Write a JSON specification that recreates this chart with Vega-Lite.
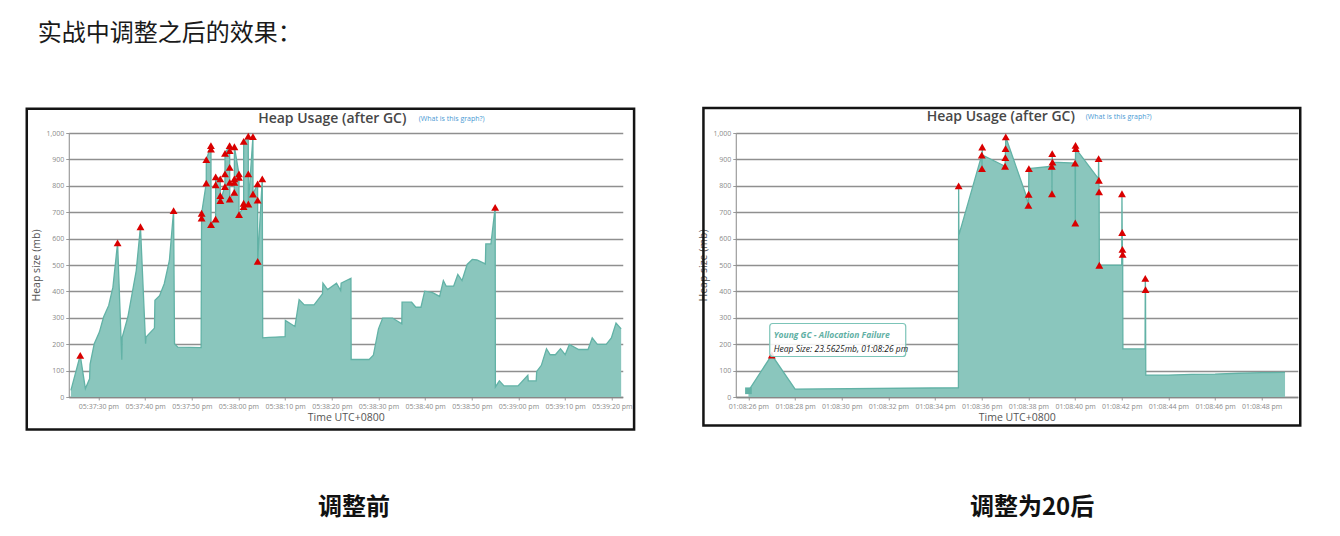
{
  "$schema": "https://vega.github.io/schema/vega-lite/v6.json",
  "background": "white",
  "autosize": {"type": "pad"},
  "padding": {"left": 24.75, "top": 21, "right": 0, "bottom": 0},
  "spacing": 113,
  "bounds": "flush",
  "datasets": {
    "before": [
      {"time": "2020-01-01T17:37:24.100Z", "heap": 25, "event": "Young GC"},
      {"time": "2020-01-01T17:37:26.100Z", "heap": 158, "event": "Full GC"},
      {"time": "2020-01-01T17:37:27.200Z", "heap": 32, "event": "Young GC"},
      {"time": "2020-01-01T17:37:28.100Z", "heap": 69, "event": "Young GC"},
      {"time": "2020-01-01T17:37:28.200Z", "heap": 124, "event": "Young GC"},
      {"time": "2020-01-01T17:37:29.100Z", "heap": 202, "event": "Young GC"},
      {"time": "2020-01-01T17:37:30.200Z", "heap": 246, "event": "Young GC"},
      {"time": "2020-01-01T17:37:31.100Z", "heap": 303, "event": "Young GC"},
      {"time": "2020-01-01T17:37:32.200Z", "heap": 347, "event": "Young GC"},
      {"time": "2020-01-01T17:37:33.100Z", "heap": 416, "event": "Young GC"},
      {"time": "2020-01-01T17:37:34.100Z", "heap": 584, "event": "Full GC"},
      {"time": "2020-01-01T17:37:35.000Z", "heap": 141, "event": "Young GC"},
      {"time": "2020-01-01T17:37:35.100Z", "heap": 227, "event": "Young GC"},
      {"time": "2020-01-01T17:37:36.300Z", "heap": 303, "event": "Young GC"},
      {"time": "2020-01-01T17:37:38.100Z", "heap": 479, "event": "Young GC"},
      {"time": "2020-01-01T17:37:39.000Z", "heap": 645, "event": "Full GC"},
      {"time": "2020-01-01T17:37:40.100Z", "heap": 202, "event": "Young GC"},
      {"time": "2020-01-01T17:37:40.200Z", "heap": 227, "event": "Young GC"},
      {"time": "2020-01-01T17:37:42.000Z", "heap": 261, "event": "Young GC"},
      {"time": "2020-01-01T17:37:42.100Z", "heap": 366, "event": "Young GC"},
      {"time": "2020-01-01T17:37:43.100Z", "heap": 384, "event": "Young GC"},
      {"time": "2020-01-01T17:37:44.100Z", "heap": 429, "event": "Young GC"},
      {"time": "2020-01-01T17:37:45.200Z", "heap": 517, "event": "Young GC"},
      {"time": "2020-01-01T17:37:46.100Z", "heap": 706, "event": "Full GC"},
      {"time": "2020-01-01T17:37:46.300Z", "heap": 202, "event": "Young GC"},
      {"time": "2020-01-01T17:37:47.000Z", "heap": 189, "event": "Young GC"},
      {"time": "2020-01-01T17:37:52.000Z", "heap": 187, "event": "Young GC"},
      {"time": "2020-01-01T17:37:52.100Z", "heap": 678, "event": "Full GC"},
      {"time": "2020-01-01T17:37:52.110Z", "heap": 696, "event": "Full GC"},
      {"time": "2020-01-01T17:37:53.100Z", "heap": 810, "event": "Full GC"},
      {"time": "2020-01-01T17:37:53.110Z", "heap": 899, "event": "Full GC"},
      {"time": "2020-01-01T17:37:54.100Z", "heap": 952, "event": "Full GC"},
      {"time": "2020-01-01T17:37:54.110Z", "heap": 939, "event": "Full GC"},
      {"time": "2020-01-01T17:37:54.120Z", "heap": 653, "event": "Full GC"},
      {"time": "2020-01-01T17:37:55.100Z", "heap": 674, "event": "Full GC"},
      {"time": "2020-01-01T17:37:55.110Z", "heap": 804, "event": "Full GC"},
      {"time": "2020-01-01T17:37:55.120Z", "heap": 834, "event": "Full GC"},
      {"time": "2020-01-01T17:37:56.100Z", "heap": 826, "event": "Full GC"},
      {"time": "2020-01-01T17:37:56.110Z", "heap": 763, "event": "Full GC"},
      {"time": "2020-01-01T17:37:56.120Z", "heap": 744, "event": "Full GC"},
      {"time": "2020-01-01T17:37:57.100Z", "heap": 797, "event": "Full GC"},
      {"time": "2020-01-01T17:37:57.110Z", "heap": 845, "event": "Full GC"},
      {"time": "2020-01-01T17:37:57.120Z", "heap": 923, "event": "Full GC"},
      {"time": "2020-01-01T17:37:58.100Z", "heap": 952, "event": "Full GC"},
      {"time": "2020-01-01T17:37:58.110Z", "heap": 933, "event": "Full GC"},
      {"time": "2020-01-01T17:37:58.120Z", "heap": 870, "event": "Full GC"},
      {"time": "2020-01-01T17:37:58.130Z", "heap": 813, "event": "Full GC"},
      {"time": "2020-01-01T17:37:58.140Z", "heap": 750, "event": "Full GC"},
      {"time": "2020-01-01T17:37:59.100Z", "heap": 775, "event": "Full GC"},
      {"time": "2020-01-01T17:37:59.110Z", "heap": 813, "event": "Full GC"},
      {"time": "2020-01-01T17:37:59.120Z", "heap": 826, "event": "Full GC"},
      {"time": "2020-01-01T17:37:59.130Z", "heap": 948, "event": "Full GC"},
      {"time": "2020-01-01T17:38:00.100Z", "heap": 845, "event": "Full GC"},
      {"time": "2020-01-01T17:38:00.110Z", "heap": 832, "event": "Full GC"},
      {"time": "2020-01-01T17:38:00.120Z", "heap": 691, "event": "Full GC"},
      {"time": "2020-01-01T17:38:01.100Z", "heap": 721, "event": "Full GC"},
      {"time": "2020-01-01T17:38:01.110Z", "heap": 734, "event": "Full GC"},
      {"time": "2020-01-01T17:38:01.120Z", "heap": 968, "event": "Full GC"},
      {"time": "2020-01-01T17:38:02.100Z", "heap": 988, "event": "Full GC"},
      {"time": "2020-01-01T17:38:02.110Z", "heap": 845, "event": "Full GC"},
      {"time": "2020-01-01T17:38:02.120Z", "heap": 731, "event": "Full GC"},
      {"time": "2020-01-01T17:38:03.100Z", "heap": 986, "event": "Full GC"},
      {"time": "2020-01-01T17:38:03.110Z", "heap": 769, "event": "Full GC"},
      {"time": "2020-01-01T17:38:04.100Z", "heap": 807, "event": "Full GC"},
      {"time": "2020-01-01T17:38:04.110Z", "heap": 746, "event": "Full GC"},
      {"time": "2020-01-01T17:38:04.120Z", "heap": 514, "event": "Full GC"},
      {"time": "2020-01-01T17:38:05.100Z", "heap": 826, "event": "Full GC"},
      {"time": "2020-01-01T17:38:05.200Z", "heap": 224, "event": "Young GC"},
      {"time": "2020-01-01T17:38:06.500Z", "heap": 226, "event": "Young GC"},
      {"time": "2020-01-01T17:38:08.000Z", "heap": 227, "event": "Young GC"},
      {"time": "2020-01-01T17:38:10.000Z", "heap": 229, "event": "Young GC"},
      {"time": "2020-01-01T17:38:10.050Z", "heap": 290, "event": "Young GC"},
      {"time": "2020-01-01T17:38:12.100Z", "heap": 267, "event": "Young GC"},
      {"time": "2020-01-01T17:38:13.000Z", "heap": 369, "event": "Young GC"},
      {"time": "2020-01-01T17:38:14.100Z", "heap": 349, "event": "Young GC"},
      {"time": "2020-01-01T17:38:16.200Z", "heap": 349, "event": "Young GC"},
      {"time": "2020-01-01T17:38:18.000Z", "heap": 391, "event": "Young GC"},
      {"time": "2020-01-01T17:38:18.100Z", "heap": 431, "event": "Young GC"},
      {"time": "2020-01-01T17:38:19.100Z", "heap": 407, "event": "Young GC"},
      {"time": "2020-01-01T17:38:21.000Z", "heap": 431, "event": "Young GC"},
      {"time": "2020-01-01T17:38:21.900Z", "heap": 403, "event": "Young GC"},
      {"time": "2020-01-01T17:38:22.000Z", "heap": 431, "event": "Young GC"},
      {"time": "2020-01-01T17:38:24.100Z", "heap": 450, "event": "Young GC"},
      {"time": "2020-01-01T17:38:24.150Z", "heap": 142, "event": "Young GC"},
      {"time": "2020-01-01T17:38:28.000Z", "heap": 142, "event": "Young GC"},
      {"time": "2020-01-01T17:38:28.900Z", "heap": 158, "event": "Young GC"},
      {"time": "2020-01-01T17:38:30.000Z", "heap": 258, "event": "Young GC"},
      {"time": "2020-01-01T17:38:30.900Z", "heap": 299, "event": "Young GC"},
      {"time": "2020-01-01T17:38:33.000Z", "heap": 299, "event": "Young GC"},
      {"time": "2020-01-01T17:38:35.000Z", "heap": 277, "event": "Young GC"},
      {"time": "2020-01-01T17:38:35.050Z", "heap": 359, "event": "Young GC"},
      {"time": "2020-01-01T17:38:37.100Z", "heap": 359, "event": "Young GC"},
      {"time": "2020-01-01T17:38:38.000Z", "heap": 340, "event": "Young GC"},
      {"time": "2020-01-01T17:38:39.100Z", "heap": 340, "event": "Young GC"},
      {"time": "2020-01-01T17:38:39.900Z", "heap": 401, "event": "Young GC"},
      {"time": "2020-01-01T17:38:41.600Z", "heap": 395, "event": "Young GC"},
      {"time": "2020-01-01T17:38:43.100Z", "heap": 381, "event": "Young GC"},
      {"time": "2020-01-01T17:38:43.900Z", "heap": 441, "event": "Young GC"},
      {"time": "2020-01-01T17:38:44.500Z", "heap": 420, "event": "Young GC"},
      {"time": "2020-01-01T17:38:46.100Z", "heap": 420, "event": "Young GC"},
      {"time": "2020-01-01T17:38:47.000Z", "heap": 464, "event": "Young GC"},
      {"time": "2020-01-01T17:38:47.900Z", "heap": 441, "event": "Young GC"},
      {"time": "2020-01-01T17:38:49.000Z", "heap": 502, "event": "Young GC"},
      {"time": "2020-01-01T17:38:50.100Z", "heap": 521, "event": "Young GC"},
      {"time": "2020-01-01T17:38:51.100Z", "heap": 519, "event": "Young GC"},
      {"time": "2020-01-01T17:38:52.900Z", "heap": 504, "event": "Young GC"},
      {"time": "2020-01-01T17:38:53.000Z", "heap": 580, "event": "Young GC"},
      {"time": "2020-01-01T17:38:54.100Z", "heap": 580, "event": "Young GC"},
      {"time": "2020-01-01T17:38:55.000Z", "heap": 718, "event": "Full GC"},
      {"time": "2020-01-01T17:38:55.050Z", "heap": 38, "event": "Young GC"},
      {"time": "2020-01-01T17:38:55.900Z", "heap": 61, "event": "Young GC"},
      {"time": "2020-01-01T17:38:56.900Z", "heap": 42, "event": "Young GC"},
      {"time": "2020-01-01T17:38:59.900Z", "heap": 42, "event": "Young GC"},
      {"time": "2020-01-01T17:39:02.000Z", "heap": 82, "event": "Young GC"},
      {"time": "2020-01-01T17:39:02.100Z", "heap": 61, "event": "Young GC"},
      {"time": "2020-01-01T17:39:03.800Z", "heap": 61, "event": "Young GC"},
      {"time": "2020-01-01T17:39:03.900Z", "heap": 97, "event": "Young GC"},
      {"time": "2020-01-01T17:39:04.900Z", "heap": 120, "event": "Young GC"},
      {"time": "2020-01-01T17:39:06.000Z", "heap": 183, "event": "Young GC"},
      {"time": "2020-01-01T17:39:06.800Z", "heap": 160, "event": "Young GC"},
      {"time": "2020-01-01T17:39:07.900Z", "heap": 160, "event": "Young GC"},
      {"time": "2020-01-01T17:39:09.000Z", "heap": 183, "event": "Young GC"},
      {"time": "2020-01-01T17:39:10.000Z", "heap": 160, "event": "Young GC"},
      {"time": "2020-01-01T17:39:10.900Z", "heap": 199, "event": "Young GC"},
      {"time": "2020-01-01T17:39:12.900Z", "heap": 180, "event": "Young GC"},
      {"time": "2020-01-01T17:39:14.900Z", "heap": 180, "event": "Young GC"},
      {"time": "2020-01-01T17:39:15.800Z", "heap": 224, "event": "Young GC"},
      {"time": "2020-01-01T17:39:16.900Z", "heap": 199, "event": "Young GC"},
      {"time": "2020-01-01T17:39:18.800Z", "heap": 199, "event": "Young GC"},
      {"time": "2020-01-01T17:39:19.900Z", "heap": 224, "event": "Young GC"},
      {"time": "2020-01-01T17:39:20.900Z", "heap": 280, "event": "Young GC"},
      {"time": "2020-01-01T17:39:22.000Z", "heap": 258, "event": "Young GC"}
    ],
    "after": [
      {"time": "2020-01-01T13:08:26.000Z", "heap": 23.5625, "event": "Young GC"},
      {"time": "2020-01-01T13:08:27.000Z", "heap": 159, "event": "Full GC"},
      {"time": "2020-01-01T13:08:28.000Z", "heap": 30, "event": "Young GC"},
      {"time": "2020-01-01T13:08:35.000Z", "heap": 35, "event": "Young GC"},
      {"time": "2020-01-01T13:08:35.010Z", "heap": 800, "event": "Full GC"},
      {"time": "2020-01-01T13:08:35.020Z", "heap": 613, "event": "Young GC"},
      {"time": "2020-01-01T13:08:36.000Z", "heap": 916, "event": "Full GC"},
      {"time": "2020-01-01T13:08:36.010Z", "heap": 865, "event": "Full GC"},
      {"time": "2020-01-01T13:08:36.020Z", "heap": 947, "event": "Full GC"},
      {"time": "2020-01-01T13:08:36.030Z", "heap": 916, "event": "Young GC"},
      {"time": "2020-01-01T13:08:37.000Z", "heap": 874, "event": "Full GC"},
      {"time": "2020-01-01T13:08:37.010Z", "heap": 907, "event": "Full GC"},
      {"time": "2020-01-01T13:08:37.020Z", "heap": 941, "event": "Full GC"},
      {"time": "2020-01-01T13:08:37.030Z", "heap": 985, "event": "Full GC"},
      {"time": "2020-01-01T13:08:37.900Z", "heap": 764, "event": "Young GC"},
      {"time": "2020-01-01T13:08:38.000Z", "heap": 726, "event": "Full GC"},
      {"time": "2020-01-01T13:08:38.010Z", "heap": 768, "event": "Full GC"},
      {"time": "2020-01-01T13:08:38.020Z", "heap": 865, "event": "Full GC"},
      {"time": "2020-01-01T13:08:39.000Z", "heap": 874, "event": "Full GC"},
      {"time": "2020-01-01T13:08:39.010Z", "heap": 770, "event": "Full GC"},
      {"time": "2020-01-01T13:08:39.020Z", "heap": 922, "event": "Full GC"},
      {"time": "2020-01-01T13:08:39.030Z", "heap": 890, "event": "Full GC"},
      {"time": "2020-01-01T13:08:40.000Z", "heap": 886, "event": "Full GC"},
      {"time": "2020-01-01T13:08:40.010Z", "heap": 659, "event": "Full GC"},
      {"time": "2020-01-01T13:08:40.020Z", "heap": 953, "event": "Full GC"},
      {"time": "2020-01-01T13:08:40.030Z", "heap": 941, "event": "Full GC"},
      {"time": "2020-01-01T13:08:41.000Z", "heap": 827, "event": "Young GC"},
      {"time": "2020-01-01T13:08:41.010Z", "heap": 903, "event": "Full GC"},
      {"time": "2020-01-01T13:08:41.020Z", "heap": 821, "event": "Full GC"},
      {"time": "2020-01-01T13:08:41.030Z", "heap": 777, "event": "Full GC"},
      {"time": "2020-01-01T13:08:41.040Z", "heap": 499, "event": "Full GC"},
      {"time": "2020-01-01T13:08:42.000Z", "heap": 499, "event": "Young GC"},
      {"time": "2020-01-01T13:08:42.010Z", "heap": 770, "event": "Full GC"},
      {"time": "2020-01-01T13:08:42.020Z", "heap": 623, "event": "Full GC"},
      {"time": "2020-01-01T13:08:42.030Z", "heap": 559, "event": "Full GC"},
      {"time": "2020-01-01T13:08:42.040Z", "heap": 540, "event": "Full GC"},
      {"time": "2020-01-01T13:08:42.050Z", "heap": 182, "event": "Young GC"},
      {"time": "2020-01-01T13:08:43.000Z", "heap": 182, "event": "Young GC"},
      {"time": "2020-01-01T13:08:43.010Z", "heap": 449, "event": "Full GC"},
      {"time": "2020-01-01T13:08:43.020Z", "heap": 407, "event": "Full GC"},
      {"time": "2020-01-01T13:08:43.030Z", "heap": 83, "event": "Young GC"},
      {"time": "2020-01-01T13:08:44.000Z", "heap": 83, "event": "Young GC"},
      {"time": "2020-01-01T13:08:45.000Z", "heap": 86, "event": "Young GC"},
      {"time": "2020-01-01T13:08:46.000Z", "heap": 87, "event": "Young GC"},
      {"time": "2020-01-01T13:08:47.000Z", "heap": 90, "event": "Young GC"},
      {"time": "2020-01-01T13:08:48.000Z", "heap": 92, "event": "Young GC"},
      {"time": "2020-01-01T13:08:49.000Z", "heap": 93, "event": "Young GC"}
    ]
  },
  "hconcat": [
    {
      "width": 554,
      "height": 264,
      "data": {"name": "before"},
      "layer": [
        {
          "mark": {"type": "area", "color": "#8ac6bd", "opacity": 1, "line": {"color": "#62b2a6", "strokeWidth": 1.3}},
          "encoding": {
            "x": {"field": "time", "type": "temporal", "title": "Time UTC+0800",
                  "scale": {"type": "utc", "domain": [1577900243636, 1577900362340]},
                  "axis": {"values": [1577900250000, 1577900260000, 1577900270000, 1577900280000, 1577900290000, 1577900300000, 1577900310000, 1577900320000, 1577900330000, 1577900340000, 1577900350000, 1577900360000], "labelExpr": "lower(utcFormat(datum.value, '%I:%M:%S %p'))"}},
            "y": {"field": "heap", "type": "quantitative", "title": "Heap size (mb)",
                  "scale": {"domain": [0, 1000], "nice": false},
                  "axis": {"tickCount": 10, "labelExpr": "format(datum.value, ',d')"}}
          }
        },
        {
          "transform": [{"filter": "datum.event === 'Full GC'"}],
          "mark": {"type": "point", "shape": "triangle-up", "filled": true, "color": "#d90000", "size": 62, "opacity": 1},
          "encoding": {
            "x": {"field": "time", "type": "temporal"},
            "y": {"field": "heap", "type": "quantitative"}
          }
        },
        {
          "data": {"values": [{}]},
          "mark": {"type": "rect", "filled": false, "color": "#141414", "strokeWidth": 2.5, "clip": false},
          "encoding": {
            "x": {"datum": 1577900234640, "type": "temporal"},
            "x2": {"datum": 1577900364770},
            "y": {"datum": 1091.7, "type": "quantitative"},
            "y2": {"datum": -123.1}
          }
        },
        {
          "data": {"values": [{}]},
          "mark": {"type": "text", "text": "实战中调整之后的效果：", "font": "Noto Sans CJK SC", "fontSize": 24, "color": "#1a1a1a", "align": "left", "baseline": "alphabetic"},
          "encoding": {
            "x": {"datum": 1577900237000, "type": "temporal"},
            "y": {"datum": 1350, "type": "quantitative"}
          }
        },
        {
          "data": {"values": [{}]},
          "mark": {"type": "text", "text": "Heap Usage (after GC)", "font": "Open Sans", "fontSize": 14, "fontWeight": 600, "color": "#474747", "align": "center", "baseline": "middle"},
          "encoding": {
            "x": {"datum": 1577900300100, "type": "temporal"},
            "y": {"datum": 1054.9, "type": "quantitative"}
          }
        },
        {
          "data": {"values": [{}]},
          "mark": {"type": "text", "text": "(What is this graph?)", "font": "Open Sans", "fontSize": 7, "color": "#4a9ad4", "align": "left", "baseline": "middle"},
          "encoding": {
            "x": {"datum": 1577900318630, "type": "temporal"},
            "y": {"datum": 1054.9, "type": "quantitative"}
          }
        },
        {
          "data": {"values": [{}]},
          "mark": {"type": "text", "text": "调整前", "font": "Noto Sans CJK SC", "fontSize": 24, "fontWeight": "bold", "color": "#111111", "align": "center", "baseline": "middle"},
          "encoding": {
            "x": {"datum": 1577900304770, "type": "temporal"},
            "y": {"datum": -420, "type": "quantitative"}
          }
        }
      ]
    },
    {
      "width": 562,
      "height": 264,
      "data": {"name": "after"},
      "layer": [
        {
          "mark": {"type": "area", "color": "#8ac6bd", "opacity": 1, "line": {"color": "#62b2a6", "strokeWidth": 1.3}},
          "encoding": {
            "x": {"field": "time", "type": "temporal", "title": "Time UTC+0800",
                  "scale": {"type": "utc", "domain": [1577884105456, 1577884129545]},
                  "axis": {"values": [1577884106000, 1577884108000, 1577884110000, 1577884112000, 1577884114000, 1577884116000, 1577884118000, 1577884120000, 1577884122000, 1577884124000, 1577884126000, 1577884128000], "labelExpr": "lower(utcFormat(datum.value, '%I:%M:%S %p'))"}},
            "y": {"field": "heap", "type": "quantitative", "title": "Heap size (mb)",
                  "scale": {"domain": [0, 1000], "nice": false},
                  "axis": {"tickCount": 10, "labelExpr": "format(datum.value, ',d')"}}
          }
        },
        {
          "transform": [{"filter": "datum.event === 'Full GC'"}],
          "mark": {"type": "point", "shape": "triangle-up", "filled": true, "color": "#d90000", "size": 62, "opacity": 1},
          "encoding": {
            "x": {"field": "time", "type": "temporal"},
            "y": {"field": "heap", "type": "quantitative"}
          }
        },
        {
          "transform": [{"filter": "datum.heap === 23.5625"}],
          "mark": {"type": "point", "shape": "square", "filled": true, "color": "#62b2a6", "size": 45, "opacity": 1},
          "encoding": {
            "x": {"field": "time", "type": "temporal"},
            "y": {"field": "heap", "type": "quantitative"}
          }
        },
        {
          "data": {"values": [{}]},
          "mark": {"type": "rect", "fill": "white", "fillOpacity": 0.88, "stroke": "#7cc4b8", "strokeWidth": 1.2, "cornerRadius": 3},
          "encoding": {
            "x": {"datum": 1577884106913, "type": "temporal"},
            "x2": {"datum": 1577884112742},
            "y": {"datum": 278.4, "type": "quantitative"},
            "y2": {"datum": 153.4}
          }
        },
        {
          "data": {"values": [{}]},
          "mark": {"type": "text", "text": "Young GC - Allocation Failure", "font": "Open Sans", "fontSize": 8.5, "fontStyle": "italic", "fontWeight": "bold", "color": "#5fb0a4", "align": "left", "baseline": "middle"},
          "encoding": {
            "x": {"datum": 1577884107084, "type": "temporal"},
            "y": {"datum": 236.7, "type": "quantitative"}
          }
        },
        {
          "data": {"values": [{}]},
          "mark": {"type": "text", "text": "Heap Size: 23.5625mb, 01:08:26 pm", "font": "Open Sans", "fontSize": 8.5, "fontStyle": "italic", "color": "#222222", "align": "left", "baseline": "middle"},
          "encoding": {
            "x": {"datum": 1577884107084, "type": "temporal"},
            "y": {"datum": 183.7, "type": "quantitative"}
          }
        },
        {
          "data": {"values": [{}]},
          "mark": {"type": "rect", "filled": false, "color": "#141414", "strokeWidth": 2.5, "clip": false},
          "encoding": {
            "x": {"datum": 1577884104071, "type": "temporal"},
            "x2": {"datum": 1577884129652},
            "y": {"datum": 1094.7, "type": "quantitative"},
            "y2": {"datum": -108}
          }
        },
        {
          "data": {"values": [{}]},
          "mark": {"type": "text", "text": "Heap Usage (after GC)", "font": "Open Sans", "fontSize": 14, "fontWeight": 600, "color": "#474747", "align": "center", "baseline": "middle"},
          "encoding": {
            "x": {"datum": 1577884116815, "type": "temporal"},
            "y": {"datum": 1062.5, "type": "quantitative"}
          }
        },
        {
          "data": {"values": [{}]},
          "mark": {"type": "text", "text": "(What is this graph?)", "font": "Open Sans", "fontSize": 7, "color": "#4a9ad4", "align": "left", "baseline": "middle"},
          "encoding": {
            "x": {"datum": 1577884120457, "type": "temporal"},
            "y": {"datum": 1062.5, "type": "quantitative"}
          }
        },
        {
          "data": {"values": [{}]},
          "mark": {"type": "text", "text": "调整为20后", "font": "Noto Sans CJK SC", "fontSize": 24, "fontWeight": "bold", "color": "#111111", "align": "center", "baseline": "middle"},
          "encoding": {
            "x": {"datum": 1577884118156, "type": "temporal"},
            "y": {"datum": -420, "type": "quantitative"}
          }
        }
      ]
    }
  ],
  "config": {
    "font": "Open Sans",
    "view": {"stroke": null},
    "axis": {"labelFont": "Open Sans", "labelFontSize": 7, "labelColor": "#8a8a8a", "titleFont": "Open Sans", "titleFontSize": 10.5, "titleFontWeight": "normal", "titleColor": "#555555", "tickColor": "#9a9a9a", "tickSize": 3, "domainColor": "#888888", "gridColor": "#8f8f8f", "gridWidth": 1.6},
    "axisX": {"grid": false, "domainWidth": 1.5, "labelPadding": 2, "titlePadding": 3, "labelFlush": false, "labelOverlap": false},
    "axisY": {"labelPadding": 2, "titlePadding": 4, "tickCount": 10}
  }
}
